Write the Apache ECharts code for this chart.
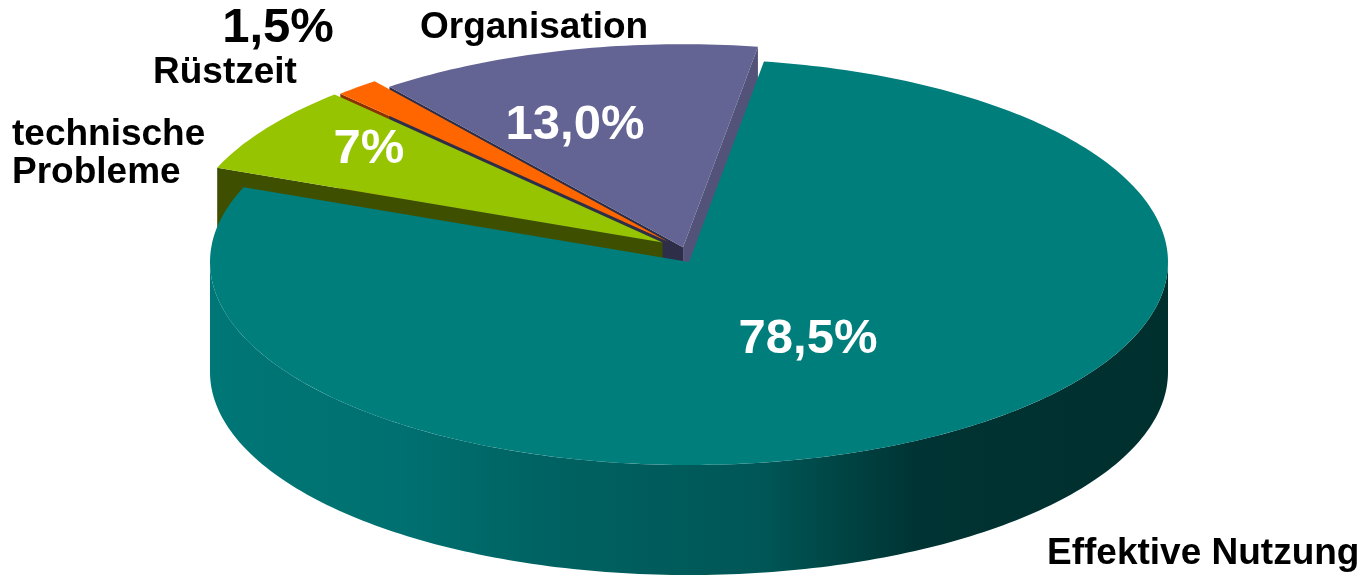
<!DOCTYPE html>
<html>
<head>
<meta charset="utf-8">
<script src="https://cdn.jsdelivr.net/npm/echarts@6/dist/echarts.min.js"></script>
<style>
html,body{margin:0;padding:0;background:#fff;}
#main{width:1364px;height:579px;}
</style>
</head>
<body>
<div id="main"></div>
<script>
// data
var categories = ['Effektive Nutzung', 'technische\nProbleme', 'Rüstzeit', 'Organisation'];
var shares = [78.5, 7, 1.5, 13.0];
var percentLabels = ['78,5%', '7%', '1,5%', '13,0%'];

// look of the fake 3d pie
var CX = 689, CY = 262, RX = 479, RY = 203, DEPTH = 110, START = 9;
var explode = [0, 32, 32, 24];
var lift = [0, 12, 10, 5];
var wallZ = [1, 4, 2, 3]; // nearer slices cover the walls of farther ones
var topColors = ['#007E7C', '#96C400', '#FF6600', '#636394'];
var startWallColors = ['#005a5a', '#3E5000', '#8A3300', '#2E2E48'];
var endWallColors = ['#005a5a', '#3E5000', '#8A3300', '#53537A'];
var sideGradient = [
	{offset: 0, color: '#007676'},
	{offset: 0.2, color: '#007070'},
	{offset: 0.35, color: '#006262'},
	{offset: 0.58, color: '#005656'},
	{offset: 0.66, color: '#004444'},
	{offset: 0.74, color: '#003333'},
	{offset: 1, color: '#00302e'}
];

var total = 0;
for (var i = 0; i < shares.length; ++i) total += shares[i];
var angles = [];
var acc = START;
for (var i = 0; i < shares.length; ++i) {
	var span = shares[i] / total * 360;
	angles.push([acc, acc + span]);
	acc += span;
}

function pt(a, ox, oy, dz) {
	var t = a * Math.PI / 180;
	return [CX + ox + RX * Math.sin(t), CY + oy - RY * Math.cos(t) + (dz || 0)];
}
function arc(a0, a1, ox, oy, dz) {
	var pts = [];
	var n = Math.max(2, Math.ceil(a1 - a0));
	for (var k = 0; k <= n; ++k) pts.push(pt(a0 + (a1 - a0) * k / n, ox, oy, dz));
	return pts;
}

function renderItem(params, api) {
	var i = params.dataIndex;
	var a0 = angles[i][0], a1 = angles[i][1];
	var mid = (a0 + a1) / 2 * Math.PI / 180;
	var ox = explode[i] * Math.sin(mid);
	var oy = -explode[i] * Math.cos(mid) * RY / RX - lift[i];
	var apex = [CX + ox, CY + oy];
	var apexLow = [apex[0], apex[1] + DEPTH];
	var children = [];

	// outer wall, only the front half is visible
	for (var k = -1; k <= 1; ++k) {
		var f0 = Math.max(a0, 90 + 360 * k), f1 = Math.min(a1, 270 + 360 * k);
		if (f1 > f0) {
			var up = arc(f0, f1, ox, oy, 0);
			var low = arc(f0, f1, ox, oy, DEPTH).reverse();
			children.push({
				type: 'polygon', z2: wallZ[i],
				shape: {points: up.concat(low)},
				style: {fill: new echarts.graphic.LinearGradient(0, 0, 1, 0, sideGradient)}
			});
		}
	}
	// radial walls that face the viewer
	var s0 = Math.sin(a0 * Math.PI / 180), s1 = Math.sin(a1 * Math.PI / 180);
	if (s0 < 0) {
		var c = pt(a0, ox, oy, 0);
		children.push({
			type: 'polygon', z2: wallZ[i],
			shape: {points: [apex, c, [c[0], c[1] + DEPTH], apexLow]},
			style: {fill: startWallColors[i]}
		});
	}
	if (s1 > 0) {
		var c = pt(a1, ox, oy, 0);
		children.push({
			type: 'polygon', z2: wallZ[i],
			shape: {points: [apex, c, [c[0], c[1] + DEPTH], apexLow]},
			style: {fill: endWallColors[i]}
		});
	}
	// top face
	children.push({
		type: 'polygon', z2: i == 0 ? 5 : 6,
		shape: {points: [apex].concat(arc(a0, a1, ox, oy, 0))},
		style: {fill: topColors[i]}
	});
	return {type: 'group', children: children};
}

var font = '"Liberation Sans", Arial, sans-serif';
function txt(text, x, y) {
	return {
		type: 'text', x: x, y: y, z: 10,
		style: {
			text: text, fill: '#000', fontSize: 37, fontWeight: 'bold', fontFamily: font,
			align: 'left', verticalAlign: 'middle', lineHeight: 38
		}
	};
}
function pct(text, x, y, color) {
	return {
		type: 'text', x: x, y: y, z: 10,
		style: {
			text: text, fill: color, fontSize: 49, fontWeight: 'bold', fontFamily: font,
			align: 'center', verticalAlign: 'middle'
		}
	};
}

var myChart = echarts.init(document.getElementById('main'));
var option = {
	animation: false,
	series: [{
		type: 'custom',
		coordinateSystem: 'none',
		renderItem: renderItem,
		data: shares
	}],
	graphic: [
		txt(categories[0], 1047, 554),
		txt(categories[1], 12, 154),
		txt(categories[2], 153, 73),
		txt(categories[3], 420, 28),
		pct(percentLabels[0], 808, 339, '#fff'),
		pct(percentLabels[1], 369, 149, '#fff'),
		pct(percentLabels[2], 278, 28, '#000'),
		pct(percentLabels[3], 575, 125, '#fff')
	]
};
myChart.setOption(option);
</script>
</body>
</html>
